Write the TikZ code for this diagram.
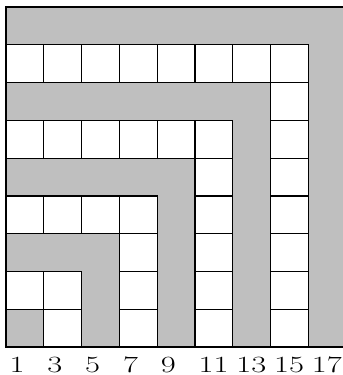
\documentclass[tikz,border=0pt]{standalone}
\begin{document}
\begin{tikzpicture}[
    x=1cm,
    y=1cm,
    line width=0.9pt,
    graybend/.style={fill=black!25, draw=black},
    whitecell/.style={fill=white, draw=black},
    oddlabel/.style={font=\fontsize{17.5}{21}\selectfont, inner sep=0pt, anchor=base west}
  ]
  \useasboundingbox (-0.16,-0.74) rectangle (8.915,9.185);

  \foreach \k in {0,2,...,8}
    \draw[graybend] (\k,0) -- (\k+1,0) -- (\k+1,\k+1) -- (0,\k+1)
      -- (0,\k) -- (\k,\k) -- cycle;

  \foreach \k in {1,3,...,7} {
    \foreach \j in {0,...,\k}
      \draw[whitecell] (\k,\j) rectangle ++(1,1);
    \foreach \i in {1,...,\k}
      \draw[whitecell] (\i-1,\k) rectangle ++(1,1);
  }

  \draw[line width=1.3pt] (0,0) rectangle (9,9);

  \foreach \k [evaluate=\k as \n using int(2*\k+1)] in {0,...,8}
    \node[oddlabel] (num\k) at (\k+0.08,-0.67) {\scalebox{1.4}[1]{\n}};
\end{tikzpicture}
\end{document}
